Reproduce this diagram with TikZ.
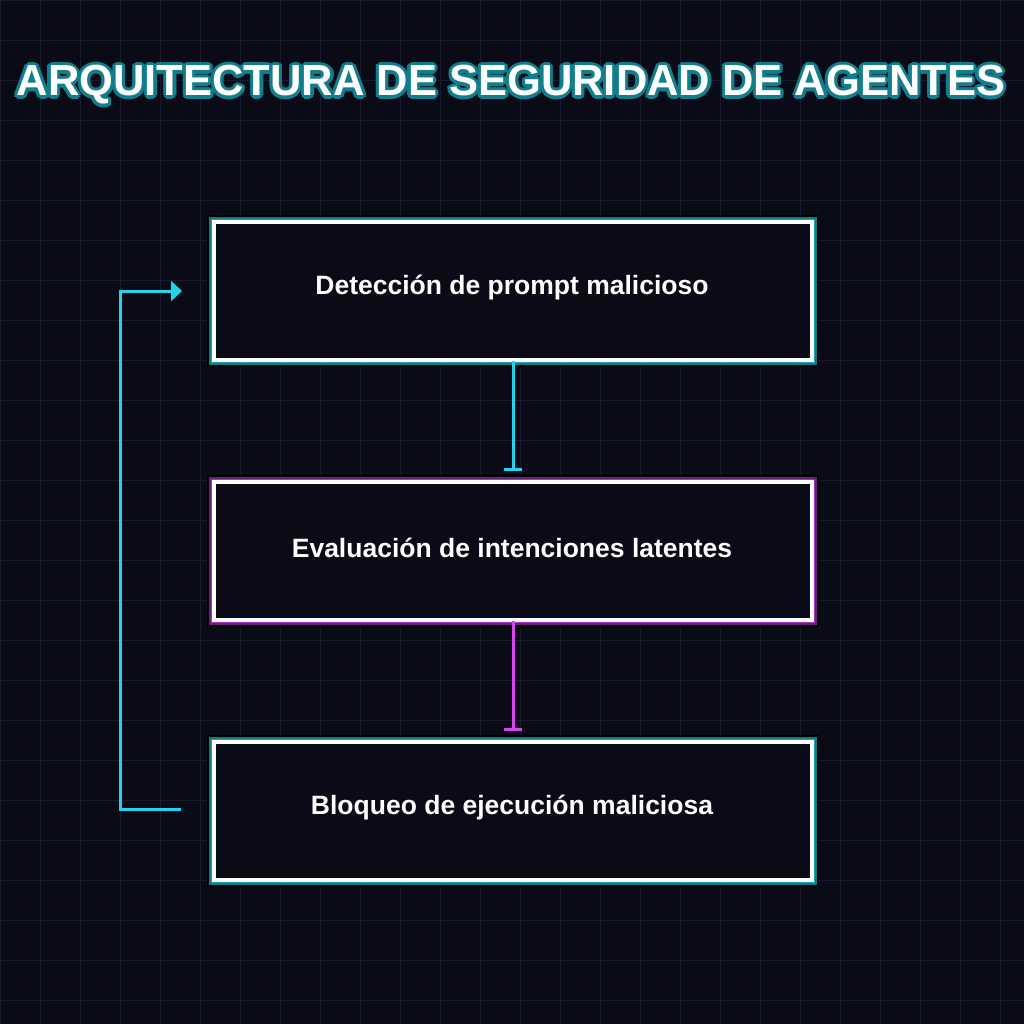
\documentclass[tikz,border=0pt]{standalone}
\usepackage{fontspec}
\setmainfont{Liberation Sans}
\usetikzlibrary{arrows.meta,calc}
\definecolor{bg}{HTML}{0B0B18}
\definecolor{gridc}{HTML}{1A1A2E}
\definecolor{cy}{HTML}{22D3EE}
\definecolor{cyd}{HTML}{0E7C88}
\definecolor{cym}{HTML}{1AA5B5}
\definecolor{mg}{HTML}{D946EF}
\definecolor{mgd}{HTML}{6B1F7A}
\definecolor{mgm}{HTML}{A535B8}
\definecolor{tglow}{HTML}{127E8C}
\tikzset{x=1pt,y=-1pt,
 lbl/.style={text=white,font=\bfseries\fontsize{26.5}{30}\selectfont},
 ttl/.style={font=\bfseries\fontsize{43.5}{48}\selectfont},
 conn/.style={line width=3pt},
}
\newcommand{\fancybox}[6]{% name, y0, dark, mid, text
 \fill[black] (207,#2) rectangle (819,#2+152);
 \fill[#3] (209,#2+2) rectangle (817,#2+150);
 \fill[#4] (211,#2+4) rectangle (815,#2+148);
 \fill[bg] (212,#2+5) rectangle (814,#2+147);
 \draw[white,line width=4pt] (214,#2+7) rectangle (812,#2+145);
 \node[lbl,minimum width=600pt,minimum height=140pt] (#1) at (512,#2+73) {#5};
}
\begin{document}
\begin{tikzpicture}
\useasboundingbox (0,0) rectangle (1024,1024);
\fill[bg] (0,0) rectangle (1024,1024);
\foreach \i in {0,40,...,1000} {
 \draw[gridc,line width=0.8pt] (\i,0) -- (\i,1024);
 \draw[gridc,line width=0.8pt] (0,\i) -- (1024,\i);
}
\foreach \a in {0,30,...,330} {
 \node[text=tglow,ttl] at ($(511,85)+(\a:3.2)$) {ARQUITECTURA DE SEGURIDAD DE AGENTES};
}
\node[text=white,ttl] (title) at (511,85) {ARQUITECTURA DE SEGURIDAD DE AGENTES};
\fancybox{b1}{215}{cyd}{cym}{Detección de prompt malicioso}{}
\fancybox{b2}{475}{mgd}{mgm}{Evaluación de intenciones latentes}{}
\fancybox{b3}{735}{cyd}{cym}{Bloqueo de ejecución maliciosa}{}
\draw[conn,cy,-{Bar[width=18pt,line width=3pt]}] (513,361) -- (513,471);
\draw[conn,mg,-{Bar[width=18pt,line width=3pt]}] (513,621) -- (513,731);
\coordinate (l1) at (181,809);
\coordinate (l2) at (182,291);
\draw[conn,cy,-{Triangle[width=20pt,length=11pt]}] (l1) -- (120,809) -- (120,291) -- (l2);
\end{tikzpicture}
\end{document}
